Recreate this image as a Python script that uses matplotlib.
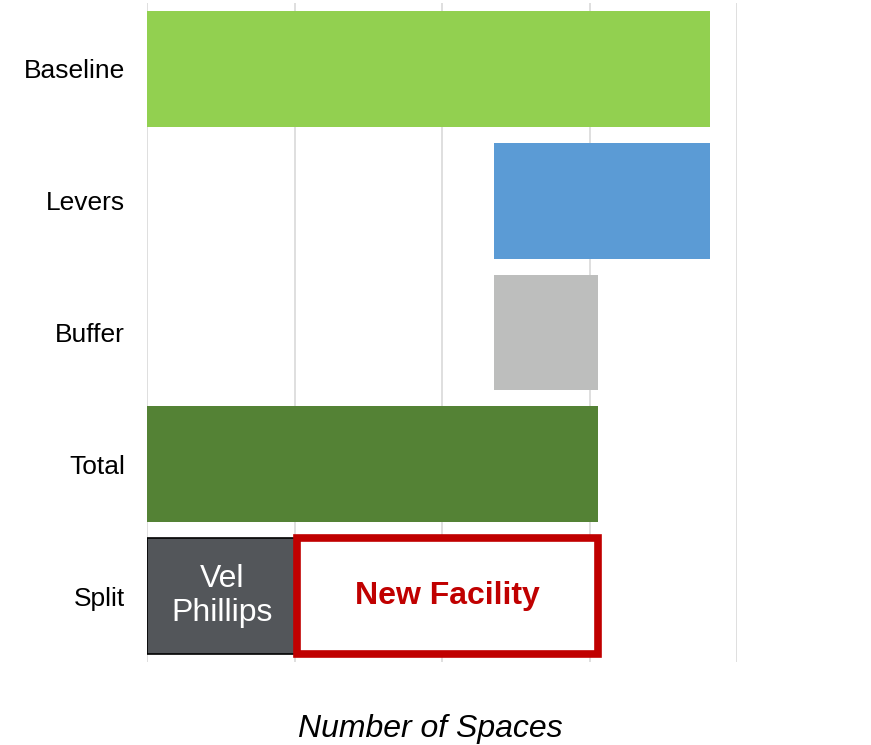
import matplotlib.pyplot as plt

plt.rcParams['font.family'] = ['Liberation Sans', 'DejaVu Sans']

categories = ['Baseline', 'Levers', 'Buffer', 'Total', 'Split']
bar_left = [0, 2355, 2355, 0]
bar_right = [3820, 3820, 3055, 3055]
bar_colors = ['#92D050', '#5B9BD5', '#BDBEBD', '#548235']
split_names = ['Vel\nPhillips', 'New Facility']
split_values = [1020, 2035]
grid_ticks = [0, 1000, 2000, 3000, 4000]

fig = plt.figure(figsize=(8.71, 7.45), dpi=100)
ax = fig.add_axes([147 / 871, 83 / 745, 590 / 871, 659 / 745])

h = 0.88
for i in range(4):
    ax.barh(i, bar_right[i] - bar_left[i], left=bar_left[i], height=h,
            color=bar_colors[i], zorder=2)

# split row
ax.barh(4, split_values[0], left=0, height=h, color='#53565A',
        edgecolor='black', linewidth=1.2, zorder=2)
ax.barh(4, split_values[1], left=split_values[0], height=h, color='white',
        edgecolor='#C00000', linewidth=5.5, zorder=3)
ax.text(split_values[0] / 2, 4, split_names[0], color='white', fontsize=23,
        ha='center', va='center', linespacing=1.15, zorder=4)
ax.text(split_values[0] + split_values[1] / 2, 4, split_names[1],
        color='#C00000', fontsize=23, fontweight='bold',
        ha='center', va='center', zorder=4)

ax.set_yticks(range(len(categories)))
ax.set_yticklabels(categories, fontsize=19)
ax.tick_params(axis='y', length=0, pad=16)
ax.set_xticks(grid_ticks)
ax.set_xticklabels([])
ax.tick_params(axis='x', length=0)
ax.set_xlim(0, 4000)
ax.set_ylim(4.5, -0.5)
ax.grid(axis='x', color='#D9D9D9', linewidth=1.2, zorder=0)
for s in ax.spines.values():
    s.set_visible(False)

fig.text(430 / 871, 1 - 729 / 745, 'Number of Spaces', fontsize=23,
         style='italic', ha='center', va='center')

fig.savefig('out.png', dpi=100)
